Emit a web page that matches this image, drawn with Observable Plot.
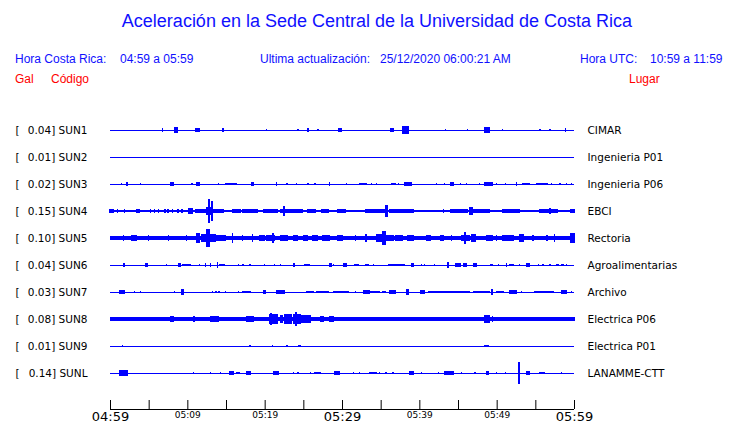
<!DOCTYPE html>
<html>
<head>
<meta charset="utf-8">
<script src="https://cdn.jsdelivr.net/npm/d3@7"></script>
<script src="https://cdn.jsdelivr.net/npm/@observablehq/plot@0.6"></script>
<style>
  body { margin: 0; background: #fff; }
  #wrap { position: relative; width: 740px; height: 423px; overflow: hidden; font-family: "Liberation Sans", Arial, sans-serif; }
  .h { position: absolute; white-space: pre; }
  .blue { color: #1010ff; }
  .red { color: #ff0000; }
  #chart { position: absolute; left: 0; top: 100px; }
</style>
</head>
<body>
<div id="wrap">
  <div class="h blue" style="left:0;width:754px;text-align:center;top:11px;font-size:18px;">Aceleración en la Sede Central de la Universidad de Costa Rica</div>
  <div class="h blue" style="left:15px;top:52px;font-size:12px;">Hora Costa Rica:</div>
  <div class="h blue" style="left:120px;top:52px;font-size:12px;">04:59 a 05:59</div>
  <div class="h blue" style="left:260px;top:52px;font-size:12px;">Ultima actualización:</div>
  <div class="h blue" style="left:380px;top:52px;font-size:12px;">25/12/2020 06:00:21 AM</div>
  <div class="h blue" style="left:580px;top:52px;font-size:12px;">Hora UTC:</div>
  <div class="h blue" style="left:650px;top:52px;font-size:12px;">10:59 a 11:59</div>
  <div class="h red" style="left:15px;top:72px;font-size:12px;">Gal</div>
  <div class="h red" style="left:51px;top:72px;font-size:12px;">Código</div>
  <div class="h red" style="left:629px;top:72px;font-size:12px;">Lugar</div>
  <div id="chart"></div>
</div>
<script>
// Stations
const codes = ["SUN1","SUN2","SUN3","SUN4","SUN5","SUN6","SUN7","SUN8","SUN9","SUNL"];
const gals = [0.04, 0.01, 0.02, 0.15, 0.10, 0.04, 0.03, 0.08, 0.01, 0.14];
const places = ["CIMAR","Ingenieria P01","Ingenieria P06","EBCI","Rectoria","Agroalimentarias","Archivo","Electrica P06","Electrica P01","LANAMME-CTT"];
// background noise half-amplitude (relative, 1 = half the row spacing)
const baseAmp = [0, 0, 0, 0.06, 0.15, 0, 0, 0.13, 0, 0];

// Tick positions (minutes after 04:59) and labels
const tickMinutes = [0,5,10,15,20,25,30,35,40,45,50,55,60];
const labelMinutes = [0,10,20,30,40,50,60];
const tickLabels = ["04:59","05:09","05:19","05:29","05:39","05:49","05:59"];
const majorLabels = ["04:59","05:29","05:59"];

// Bursts per station: [start minute, end minute, half-amplitude relative]
const evSUN1 = [[6.8,6.8,0.15],[8.3,8.7,0.22],[11.1,11.5,0.18],[14.6,14.6,0.12],[20.2,20.2,0.1],[24.3,24.3,0.07],[25.6,25.6,0.12],[26.9,26.9,0.07],[29.5,29.9,0.15],[36.3,36.6,0.12],[37.9,38.6,0.26],[43.4,43.4,0.1],[46.2,46.2,0.1],[48.4,49.0,0.22],[50.8,50.8,0.07],[55.6,55.6,0.1],[56.9,56.9,0.07],[58.9,58.9,0.12]];
const evSUN2 = [];
const evSUN3 = [[1.5,1.5,0.1],[2.2,2.2,0.12],[3.9,3.9,0.08],[7.8,8.2,0.12],[10.6,10.6,0.1],[11.2,11.6,0.12],[14.0,14.0,0.1],[14.9,16.4,0.1],[18.3,18.5,0.12],[21.5,21.5,0.12],[22.9,22.9,0.1],[24.1,24.1,0.1],[25.6,25.6,0.1],[26.5,26.5,0.1],[28.4,28.4,0.12],[30.6,30.6,0.1],[32.3,33.2,0.1],[33.8,33.8,0.1],[34.5,34.5,0.1],[36.4,36.9,0.1],[37.3,37.3,0.1],[38.1,39.0,0.14],[42.2,42.2,0.1],[43.3,43.3,0.1],[44.0,44.4,0.12],[45.3,45.3,0.1],[46.1,46.1,0.1],[47.8,47.8,0.1],[48.5,49.4,0.14],[50.0,50.0,0.1],[51.1,51.1,0.1],[52.6,52.6,0.12],[53.4,54.2,0.1],[55.2,56.5,0.1],[57.1,57.1,0.1],[58.2,58.2,0.1],[59.0,59.0,0.1],[59.7,59.7,0.1]];
const evSUN4 = [[0,0.5,0.17],[1.0,1.0,0.12],[1.9,1.9,0.12],[3.5,3.8,0.15],[5.2,5.2,0.12],[5.8,5.8,0.12],[6.3,6.3,0.12],[7.1,7.1,0.12],[7.5,7.5,0.12],[8.1,8.1,0.12],[8.8,8.8,0.12],[9.3,9.3,0.12],[10.1,10.7,0.2],[11.1,12.4,0.17],[12.5,13.3,0.32],[12.8,12.9,0.9],[13.1,13.2,0.75],[13.3,14.6,0.17],[15.9,16.8,0.12],[17.2,19.0,0.13],[19.8,21.6,0.13],[22.0,22.9,0.18],[22.4,22.5,0.35],[22.9,24.6,0.13],[24.6,24.9,0.12],[25.5,26.5,0.15],[27.4,28.1,0.12],[28.3,28.3,0.12],[29.4,30.4,0.13],[30.6,32.3,0.11],[33.0,35.6,0.13],[35.7,35.9,0.48],[36.2,37.1,0.18],[37.2,39.2,0.13],[40.3,41.8,0.11],[43.1,43.1,0.12],[44.0,46.2,0.13],[46.5,46.8,0.28],[46.9,49.1,0.13],[49.4,50.4,0.11],[50.8,53.0,0.13],[53.4,54.7,0.11],[55.6,57.8,0.13],[56.8,56.9,0.25],[58.4,59.1,0.11],[59.5,60,0.13]];
const evSUN5 = [[1.7,1.7,0.2],[2.8,3.4,0.22],[5.0,5.0,0.2],[7.6,7.6,0.2],[9.9,9.9,0.2],[11.2,11.6,0.37],[11.9,12.3,0.28],[12.5,12.9,0.65],[12.9,13.6,0.3],[13.6,14.9,0.2],[15.8,15.8,0.35],[17.1,17.1,0.25],[18.4,18.4,0.3],[19.4,20.0,0.25],[20.3,21.3,0.25],[21.0,21.1,0.4],[22.0,22.9,0.2],[23.7,24.2,0.2],[25.0,25.5,0.2],[26.2,26.8,0.2],[27.5,28.4,0.2],[29.4,30.1,0.25],[31.7,31.7,0.25],[33.0,33.2,0.28],[34.5,35.2,0.28],[35.3,35.6,0.55],[35.8,36.6,0.25],[36.9,37.8,0.22],[38.5,39.2,0.22],[41.0,41.4,0.22],[42.7,43.1,0.22],[44.2,44.2,0.25],[45.5,46.5,0.25],[45.9,46.0,0.45],[46.8,47.2,0.28],[48.7,49.5,0.22],[50.0,50.0,0.22],[50.8,52.1,0.22],[53.0,53.4,0.28],[54.7,54.7,0.22],[56.5,56.5,0.22],[57.5,57.5,0.3],[59.5,60,0.4]];
const evSUN6 = [[1.8,1.8,0.15],[4.6,4.9,0.15],[7.3,7.3,0.08],[8.9,9.1,0.12],[9.4,10.4,0.09],[11.6,11.6,0.1],[12.4,12.4,0.12],[13.0,13.0,0.12],[13.9,13.9,0.22],[14.2,14.8,0.11],[16.6,16.6,0.08],[17.2,17.2,0.08],[18.1,18.1,0.1],[20.0,20.0,0.08],[21.3,21.3,0.1],[22.0,22.0,0.1],[23.7,23.9,0.12],[25.2,25.8,0.11],[28.4,28.6,0.18],[28.9,28.9,0.1],[30.2,30.6,0.14],[31.6,32.1,0.11],[33.0,33.4,0.11],[34.1,34.1,0.1],[36.0,38.1,0.1],[39.0,39.2,0.12],[40.3,40.3,0.08],[40.7,40.7,0.08],[42.0,42.0,0.1],[43.7,43.7,0.22],[44.7,45.3,0.14],[45.7,46.1,0.12],[47.0,47.4,0.12],[49.2,49.5,0.1],[50.2,50.2,0.08],[51.3,51.3,0.18],[51.7,52.2,0.1],[53.0,53.0,0.1],[53.9,54.2,0.12],[55.4,55.4,0.08],[56.0,56.0,0.08],[56.9,56.9,0.08],[57.8,58.0,0.1],[58.4,58.6,0.1],[59.0,59.0,0.08]];
const evSUN7 = [[1.3,1.8,0.16],[3.2,3.2,0.08],[3.9,3.9,0.08],[8.3,8.3,0.1],[9.3,9.5,0.2],[13.3,13.3,0.1],[13.7,13.7,0.1],[14.1,14.1,0.08],[14.9,14.9,0.1],[16.6,16.6,0.08],[17.2,18.2,0.1],[19.8,20.1,0.12],[21.5,22.6,0.13],[25.4,26.3,0.1],[26.7,28.2,0.1],[28.9,30.8,0.1],[31.7,31.7,0.08],[32.8,33.6,0.13],[33.6,34.9,0.09],[35.3,35.6,0.1],[36.2,36.9,0.18],[38.4,38.6,0.2],[40.1,40.7,0.16],[41.2,43.1,0.09],[43.3,46.5,0.1],[47.0,49.1,0.1],[49.4,49.4,0.2],[50.0,50.9,0.09],[51.7,52.6,0.13],[53.2,53.2,0.08],[54.9,57.3,0.1],[58.4,59.0,0.18],[59.7,59.7,0.08]];
const evSUN8 = [[0.2,0.8,0.18],[5.4,5.4,0.15],[7.8,8.2,0.25],[10.8,10.9,0.22],[13.0,14.0,0.2],[17.7,18.5,0.2],[20.6,21.6,0.35],[20.8,20.9,0.45],[22.0,22.3,0.3],[22.6,23.5,0.38],[23.7,24.6,0.4],[24.0,24.1,0.52],[24.8,25.9,0.3],[27.2,27.6,0.2],[28.4,28.9,0.2],[31.0,31.0,0.15],[32.3,32.3,0.15],[42.5,42.5,0.15],[47.2,47.2,0.15],[48.5,49.0,0.3],[49.5,49.5,0.2],[53.7,53.7,0.15],[56.5,56.5,0.15],[58.2,58.2,0.15],[59.0,60,0.18]];
const evSUN9 = [[1.6,1.6,0.1],[18.1,18.1,0.07],[21.0,21.0,0.07],[22.9,22.9,0.08],[24.4,24.6,0.1],[48.5,48.9,0.1]];
const evSUNL = [[1.3,2.2,0.22],[10.8,10.8,0.08],[13.0,13.0,0.08],[14.3,14.3,0.1],[15.5,15.9,0.12],[16.4,16.7,0.1],[17.7,18.1,0.12],[21.1,21.8,0.15],[23.7,23.7,0.08],[24.3,24.3,0.08],[25.9,25.9,0.1],[26.5,27.2,0.1],[29.1,29.7,0.12],[31.5,31.5,0.08],[32.3,32.3,0.08],[33.6,34.5,0.08],[34.9,34.9,0.08],[35.7,35.7,0.08],[36.6,36.6,0.08],[38.8,39.2,0.12],[40.3,40.3,0.08],[42.5,42.5,0.08],[43.3,44.4,0.12],[45.5,45.5,0.08],[47.2,47.2,0.08],[48.7,48.9,0.12],[50.0,50.0,0.08],[51.1,51.1,0.08],[52.8,53.0,0.12],[52.9,52.9,0.82],[53.9,54.2,0.12],[55.6,56.2,0.08],[58.4,58.4,0.08]];

const eventLists = [evSUN1, evSUN2, evSUN3, evSUN4, evSUN5, evSUN6, evSUN7, evSUN8, evSUN9, evSUNL];

const rows = codes.map((c, i) => ({i, code: c, gal: gals[i], place: places[i], base: baseAmp[i]}));
const bursts = eventLists.flatMap((list, i) => list.map(([t0, t1, a]) => ({i, t0, t1, a})));
const bands = rows.filter(d => d.base > 0);
const ticks = tickMinutes.map(m => ({m}));
const labels = labelMinutes.map((m, k) => ({m, label: tickLabels[k], major: majorLabels.includes(tickLabels[k])}));

const axisLevel = 10 + 1/3;   // axis line, in row units
const tickTop = 10;
const blue = "#0000ff";

const chart = Plot.plot({
  width: 740,
  height: 323,
  marginLeft: 110,
  marginRight: 166,
  marginTop: 0,
  marginBottom: 0,
  style: {fontFamily: "'DejaVu Sans', sans-serif", background: "transparent"},
  x: {domain: [0, 60], axis: null},
  y: {domain: [0, 9], range: [30, 273], axis: null},
  marks: [
    Plot.ruleY(rows, {y: "i", x1: 0, x2: 60, stroke: blue, strokeWidth: 1}),
    Plot.rect(bands, {x1: 0, x2: 60, y1: d => d.i - d.base / 2, y2: d => d.i + d.base / 2, fill: blue, shapeRendering: "crispEdges"}),
    Plot.rect(bursts, {x1: "t0", x2: "t1", y1: d => d.i - d.a / 2, y2: d => d.i + d.a / 2, fill: blue, insetLeft: -0.6, insetRight: -0.6, shapeRendering: "crispEdges"}),
    Plot.text(rows, {x: 0, y: "i", text: () => "[", textAnchor: "start", dx: -95, fontSize: 10.5, fill: "black"}),
    Plot.text(rows, {x: 0, y: "i", text: d => `${d.gal.toFixed(2)}] ${d.code}`, textAnchor: "end", dx: -23, fontSize: 10.5, fill: "black"}),
    Plot.text(rows, {x: 60, y: "i", text: "place", textAnchor: "start", dx: 13, fontSize: 10.5, fill: "black"}),
    Plot.ruleY([axisLevel], {x1: 0, x2: 60, stroke: "black", strokeWidth: 1}),
    Plot.ruleX(ticks, {x: "m", y1: tickTop, y2: axisLevel, stroke: "black", strokeWidth: 1}),
    Plot.text(labels.filter(d => d.major), {x: "m", y: axisLevel, text: "label", dy: 7, fontSize: 13, fill: "black"}),
    Plot.text(labels.filter(d => !d.major), {x: "m", y: axisLevel, text: "label", dy: 6, fontSize: 9, fill: "black"})
  ]
});
document.getElementById("chart").appendChild(chart);
</script>
</body>
</html>
